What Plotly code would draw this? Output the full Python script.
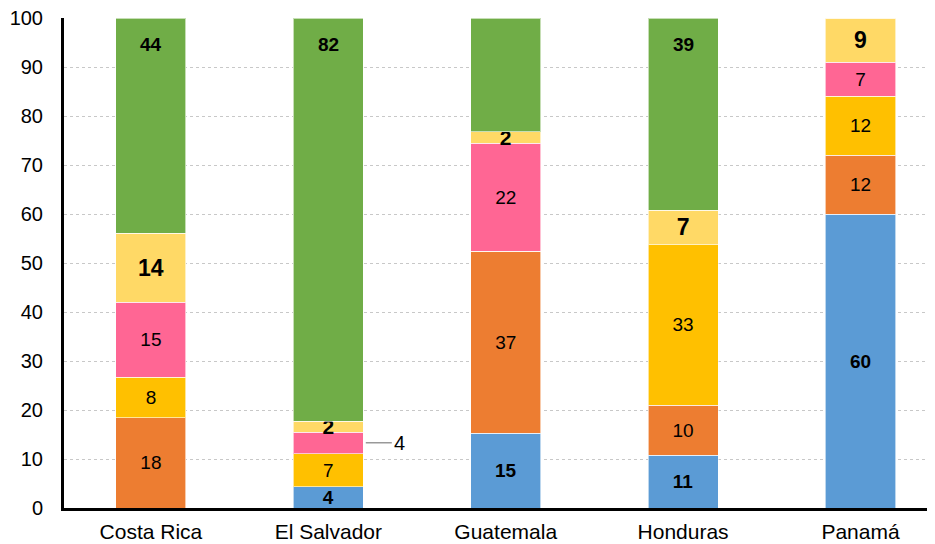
import plotly.graph_objects as go

countries = ["Costa Rica", "El Salvador", "Guatemala", "Honduras", "Panamá"]

blue_vals = [0.0, 4.3, 15.3, 10.8, 60.0]
orange_vals = [18.4, 0.0, 37.1, 10.2, 12.0]
gold_vals = [8.3, 6.8, 0.0, 32.7, 12.0]
pink_vals = [15.3, 4.4, 22.0, 0.0, 7.0]
lightyellow_vals = [14.1, 2.2, 2.4, 7.1, 9.0]
green_vals = [43.9, 82.3, 23.2, 39.2, 0.0]

series = [
    ("blue", blue_vals, "#5B9BD5", True),
    ("orange", orange_vals, "#ED7D31", False),
    ("gold", gold_vals, "#FFC000", False),
    ("pink", pink_vals, "#FF6694", False),
    ("lightyellow", lightyellow_vals, "#FFD966", True),
    ("green", green_vals, "#70AD47", True),
]

FONT = "Arial, 'Liberation Sans', sans-serif"

fig = go.Figure()
for name, vals, color, bold in series:
    texts = []
    sizes = []
    for i, v in enumerate(vals):
        r = round(v)
        show = v > 0 and name != "green" and not (name == "pink" and countries[i] == "El Salvador")
        t = str(r) if show else ""
        if bold and t:
            t = "<b>" + t + "</b>"
        texts.append(t)
        if name == "lightyellow":
            sizes.append(21 if v < 3 else 23)
        else:
            sizes.append(19)
    fig.add_trace(go.Bar(
        x=countries, y=vals, name=name,
        marker=dict(color=color, line=dict(color="rgba(255,255,255,0.6)", width=1)),
        text=texts, textposition="inside", insidetextanchor="middle",
        constraintext="none", textangle=0,
        textfont=dict(family=FONT, size=sizes, color="black"),
        cliponaxis=False,
    ))

# Green labels near the top of each bar
for i, c in enumerate(countries):
    v = green_vals[i]
    if v > 0:
        top = blue_vals[i] + orange_vals[i] + gold_vals[i] + pink_vals[i] + lightyellow_vals[i] + v
        fig.add_annotation(x=c, y=top, yanchor="top", yshift=-14, showarrow=False,
                           text="<b>%d</b>" % round(v),
                           font=dict(family=FONT, size=19, color="black"))

# Leader-line label for El Salvador pink segment
i = countries.index("El Salvador")
base = blue_vals[i] + orange_vals[i] + gold_vals[i]
fig.add_annotation(x=i + 0.2, y=base + pink_vals[i] / 2, xref="x", yref="y",
                   text=str(round(pink_vals[i])), showarrow=True, arrowhead=0,
                   arrowwidth=1.5, arrowcolor="#999999", ax=28, ay=0,
                   xanchor="left", standoff=2,
                   font=dict(family=FONT, size=20, color="black"))

fig.update_layout(
    barmode="stack", bargap=0.605,
    width=935, height=544,
    margin=dict(l=56, r=8, t=10, b=44, autoexpand=False),
    plot_bgcolor="white", paper_bgcolor="white",
    showlegend=False,
    font=dict(family=FONT, color="black"),
)
fig.update_xaxes(range=[-0.49, 4.42], showline=True, linecolor="black", linewidth=3,
                 showgrid=False, ticks="", tickfont=dict(size=21, color="black"),
                 ticklabelstandoff=3, automargin=False)
fig.update_yaxes(range=[0, 100], dtick=10, showline=True, linecolor="black", linewidth=3,
                 showgrid=True, gridcolor="#c8c8c8", griddash="dot", gridwidth=1,
                 zeroline=False, ticks="", tickfont=dict(size=20, color="black"),
                 ticklabelstandoff=14, ticklabeloverflow="allow", automargin=False)

fig.write_html("out.html")
